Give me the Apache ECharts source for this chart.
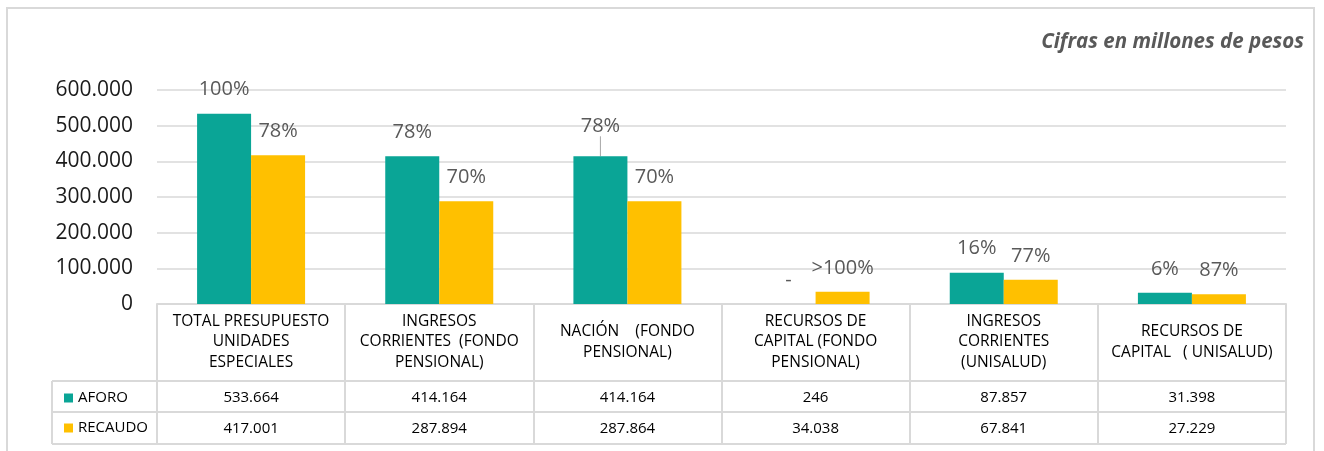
<!DOCTYPE html>
<html>
<head>
<meta charset="utf-8">
<script src="https://cdn.jsdelivr.net/npm/echarts@6/dist/echarts.min.js"></script>
<style>
  html, body { margin: 0; padding: 0; background: #fff; }
  #main { width: 1324px; height: 451px; }
</style>
</head>
<body>
<div id="main"></div>
<script>
// datos
var categorias = [
  'TOTAL PRESUPUESTO\nUNIDADES\nESPECIALES',
  'INGRESOS\nCORRIENTES  (FONDO\nPENSIONAL)',
  'NACIÓN    (FONDO\nPENSIONAL)',
  'RECURSOS DE\nCAPITAL (FONDO\nPENSIONAL)',
  'INGRESOS\nCORRIENTES\n(UNISALUD)',
  'RECURSOS DE\nCAPITAL   ( UNISALUD)'
];
var aforo = [533664, 414164, 414164, 246, 87857, 31398];
var recaudo = [417001, 287894, 287864, 34038, 67841, 27229];
var aforoPct = ['100%', '78%', '78%', '-', '16%', '6%'];
var recaudoPct = ['78%', '70%', '70%', '>100%', '77%', '87%'];
var yTicks = [0, 100000, 200000, 300000, 400000, 500000, 600000];

var fuente = '"Open Sans", sans-serif';
var gris = '#d9d9d9';

function fmt(n) {
  return String(n).replace(/\B(?=(\d{3})+(?!\d))/g, '.');
}

var chart = echarts.init(document.getElementById('main'));

// filas de la tabla de datos (ejes extra)
function filaTabla(valores, offset) {
  return {
    type: 'category',
    position: 'bottom',
    offset: offset,
    data: categorias,
    axisLine: { show: false },
    axisTick: { show: false },
    axisLabel: {
      interval: 0,
      margin: 0,
      verticalAlign: 'middle',
      fontFamily: fuente,
      fontSize: 15,
      color: '#000',
      formatter: function (v, i) { return fmt(valores[i]); }
    }
  };
}

// la barra de NACIÓN lleva la etiqueta desplazada con línea guía
var aforoData = aforo.map(function (v, i) {
  if (i === 2) return { value: v, labelLine: { show: true } };
  return v;
});

var option = {
  animation: false,
  textStyle: { fontFamily: fuente },
  title: {
    text: 'Cifras en millones de pesos',
    right: 15,
    top: 27,
    textStyle: {
      fontFamily: fuente,
      fontSize: 20.5,
      fontStyle: 'italic',
      fontWeight: 'bold',
      color: '#595959'
    }
  },
  legend: {
    orient: 'vertical',
    left: 59,
    top: 385,
    icon: 'rect',
    itemWidth: 9,
    itemHeight: 9,
    itemGap: 14,
    textStyle: { fontFamily: fuente, fontSize: 15, lineHeight: 16, color: '#000' },
    data: ['AFORO', 'RECAUDO']
  },
  grid: { left: 157, right: 38, top: 90, bottom: 147 },
  xAxis: [{
    type: 'category',
    position: 'bottom',
    data: categorias,
    axisLine: { show: true, lineStyle: { color: gris, width: 2 } },
    axisTick: { show: true, interval: 0, length: 140, lineStyle: { color: gris, width: 2 } },
    axisLabel: {
      interval: 0,
      margin: 38,
      verticalAlign: 'middle',
      fontFamily: fuente,
      fontSize: 15.5,
      lineHeight: 20.5,
      color: '#000'
    }
  },
    filaTabla(aforo, 94),
    filaTabla(recaudo, 125)
  ],
  yAxis: {
    type: 'value',
    min: yTicks[0],
    max: yTicks[yTicks.length - 1],
    interval: yTicks[1] - yTicks[0],
    axisLine: { show: false },
    axisTick: { show: false },
    axisLabel: {
      margin: 24,
      fontFamily: fuente,
      fontSize: 21,
      color: '#1a1a1a',
      formatter: function (v) { return fmt(v); }
    },
    splitLine: { lineStyle: { color: gris, width: 1.5 } }
  },
  series: [{
    name: 'AFORO',
    type: 'bar',
    barWidth: 54,
    barGap: '0%',
    data: aforoData,
    itemStyle: { color: '#0aa596' },
    label: {
      show: true,
      position: 'top',
      distance: 14,
      fontFamily: fuente,
      fontSize: 20,
      color: '#595959',
      formatter: function (p) { return aforoPct[p.dataIndex]; }
    },
    labelLine: { show: false, lineStyle: { color: '#a6a6a6', width: 1 } },
    labelLayout: function (p) {
      if (p.dataIndex === 2) return { dy: -6 };
      return {};
    }
  }, {
    name: 'RECAUDO',
    type: 'bar',
    barWidth: 54,
    barGap: '0%',
    data: recaudo,
    itemStyle: { color: '#ffc000' },
    label: {
      show: true,
      position: 'top',
      distance: 14,
      fontFamily: fuente,
      fontSize: 20,
      color: '#595959',
      formatter: function (p) { return recaudoPct[p.dataIndex]; }
    }
  }],
  graphic: [
    // marco exterior
    { type: 'rect', shape: { x: 7, y: 8, width: 1307, height: 470 }, style: { fill: 'none', stroke: gris, lineWidth: 2 }, silent: true },
    // líneas de la tabla
    { type: 'line', shape: { x1: 52, y1: 381, x2: 1286, y2: 381 }, style: { stroke: gris, lineWidth: 2 } },
    { type: 'line', shape: { x1: 52, y1: 412, x2: 1286, y2: 412 }, style: { stroke: gris, lineWidth: 2 } },
    { type: 'line', shape: { x1: 52, y1: 444, x2: 1286, y2: 444 }, style: { stroke: gris, lineWidth: 2 } },
    { type: 'line', shape: { x1: 52, y1: 381, x2: 52, y2: 444 }, style: { stroke: gris, lineWidth: 2 } }
  ]
};

chart.setOption(option);
</script>
</body>
</html>
